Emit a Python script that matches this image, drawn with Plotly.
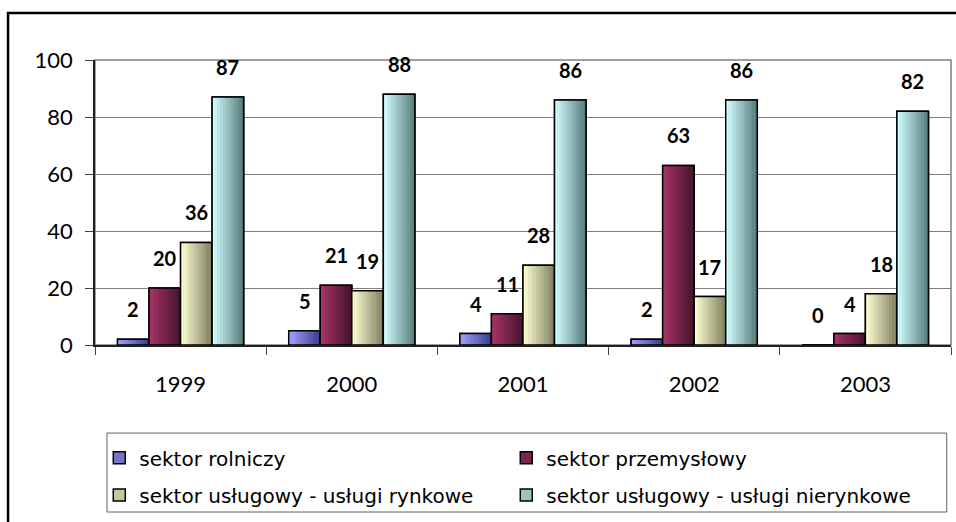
import plotly.graph_objects as go

years = ['1999', '2000', '2001', '2002', '2003']
rolniczy = [2, 5, 4, 2, 0]
przemyslowy = [20, 21, 11, 63, 4]
rynkowe = [36, 19, 28, 17, 18]
nierynkowe = [87, 88, 86, 86, 82]

names = [
    'sektor rolniczy',
    'sektor przemysłowy',
    'sektor usługowy - usługi rynkowe',
    'sektor usługowy - usługi nierynkowe',
]
series = [rolniczy, przemyslowy, rynkowe, nierynkowe]

# (light left edge, dark right edge) of the horizontal gradient
shades = [
    ((160, 160, 255), (62, 62, 140)),
    ((168, 52, 104), (70, 20, 46)),
    ((255, 255, 210), (128, 128, 98)),
    ((210, 255, 255), (88, 124, 124)),
]
# legend rows: first two entries in the top row, last two below
legend_ids = ['legend', 'legend', 'legend2', 'legend2']

BAR_W = 0.1842   # bar width in category units
N_SLICES = 12
FONT = 'Lato'
LEGEND_FONT = 'DejaVu Sans'


def mix(c1, c2, t):
    return 'rgb(%d,%d,%d)' % tuple(round(a + (b - a) * t) for a, b in zip(c1, c2))


fig = go.Figure()

for i, (name, vals) in enumerate(zip(names, series)):
    off = -2 * BAR_W + i * BAR_W
    light, dark = shades[i]
    # base bar, also provides the legend symbol
    fig.add_trace(go.Bar(
        x=years, y=vals, name=name, width=BAR_W, offset=off,
        legend=legend_ids[i],
        marker=dict(color=mix(light, dark, 0.45),
                    line=dict(color='black', width=1.5)),
        hoverinfo='skip',
    ))
    # gradient slices
    sw = BAR_W / N_SLICES
    for k in range(N_SLICES):
        fig.add_trace(go.Bar(
            x=years, y=vals, width=sw * 1.05, offset=off + k * sw,
            marker=dict(color=mix(light, dark, k / (N_SLICES - 1)),
                        line=dict(width=0)),
            showlegend=False, hoverinfo='skip',
        ))
    # outline on top
    fig.add_trace(go.Bar(
        x=years, y=vals, width=BAR_W, offset=off,
        marker=dict(color='rgba(0,0,0,0)',
                    line=dict(color='black', width=1.5)),
        showlegend=False, hovertemplate='%{x}: %{y}<extra>' + name + '</extra>',
    ))
    for j, v in enumerate(vals):
        fig.add_annotation(
            x=j + off + BAR_W / 2, y=v, text=f'<b>{v}</b>',
            showarrow=False, yanchor='bottom', yshift=16,
            font=dict(family=FONT, size=20, color='black'),
        )

# plot area frame (grey), legend box and outer chart border (black)
fig.add_shape(type='rect', xref='paper', yref='paper', x0=0, x1=1, y0=0, y1=1,
              line=dict(color='#808080', width=1.5), layer='below')
fig.add_shape(type='rect', xref='paper', yref='paper',
              x0=0.014, x1=0.995, y0=-0.586, y1=-0.309,
              line=dict(color='#606060', width=1))
fig.add_shape(type='rect', xref='paper', yref='paper',
              x0=-0.1016, x1=1.05, y0=-0.8, y1=1.165,
              line=dict(color='black', width=2.5), layer='above')

legend_style = dict(
    orientation='h', x=0.005, xanchor='left', yanchor='middle',
    entrywidth=362, entrywidthmode='pixels',
    bgcolor='rgba(0,0,0,0)', borderwidth=0,
    font=dict(family=LEGEND_FONT, size=20, color='black'),
    traceorder='normal',
)

fig.update_layout(
    width=956, height=522,
    barmode='overlay',
    plot_bgcolor='white', paper_bgcolor='white',
    margin=dict(l=95, r=5, t=60, b=177, autoexpand=False),
    font=dict(family=FONT, color='black'),
    showlegend=True,
    legend=dict(legend_style, y=-0.396),
    legend2=dict(legend_style, y=-0.526),
    xaxis=dict(
        type='category', range=[-0.5, 4.5],
        showline=True, linecolor='#202020', linewidth=1.5,
        ticks='outside', tickson='boundaries', ticklen=8, tickcolor='#404040',
        tickfont=dict(family=FONT, size=22, color='black'),
        ticklabelstandoff=19,
        showgrid=False,
    ),
    yaxis=dict(
        range=[0, 100], dtick=20,
        showline=True, linecolor='#202020', linewidth=1.5,
        ticks='outside', ticklen=8, tickcolor='#404040',
        tickfont=dict(family=FONT, size=22, color='black'),
        ticklabelstandoff=8,
        showgrid=True, gridcolor='#808080', gridwidth=1,
        zeroline=False,
    ),
)

# drop the browser's default body margin so the figure sits at (0, 0)
fig.write_html('out.html', config={'displayModeBar': False},
               post_script="document.body.style.margin='0';")
